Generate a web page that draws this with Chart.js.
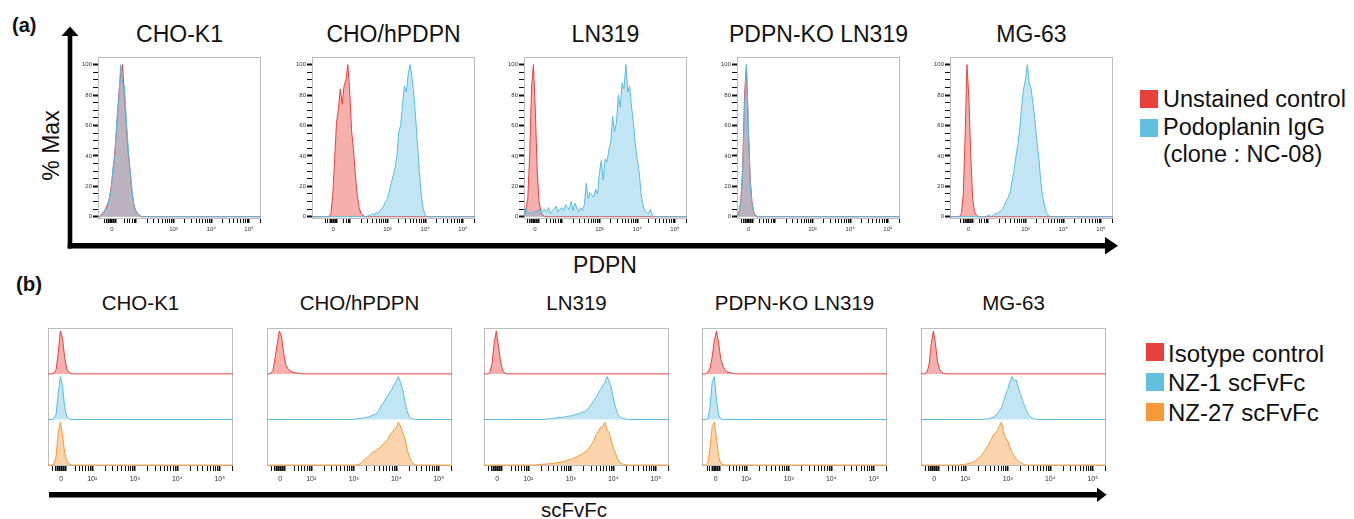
<!DOCTYPE html>
<html>
<head>
<meta charset="utf-8">
<script src="https://cdn.jsdelivr.net/npm/chart.js@4.4.1/dist/chart.umd.min.js"></script>
<style>
  html, body { margin: 0; padding: 0; background: #fff; }
  body { width: 1354px; height: 519px; position: relative; overflow: hidden;
         font-family: "Liberation Sans", Arial, Helvetica, sans-serif; color: #111; }
  .cell { position: absolute; }
  .txt { position: absolute; white-space: nowrap; line-height: 1; }
  .ctr { transform: translateX(-50%); }
  .sw { position: absolute; width: 18px; height: 18px; }
</style>
</head>
<body>
<svg width="1354" height="519" style="position:absolute;left:0;top:0">
  <rect x="67.7" y="33" width="4.6" height="215.5" fill="#000"/>
  <polygon points="61.5,36 78.5,36 70,26.5" fill="#000"/>
  <rect x="67.7" y="243" width="1040" height="5.5" fill="#000"/>
  <polygon points="1105,237 1105,254.5 1118,245.7" fill="#000"/>
  <rect x="49" y="492" width="1050" height="5.5" fill="#000"/>
  <polygon points="1097,487.5 1097,502 1106.5,494.7" fill="#000"/>
</svg>
<div id="page"></div>
<script>
// ===== data =====
const STEP = 0.05; // histogram bin width, in decades of the display axis

const cellLines = ["CHO-K1", "CHO/hPDPN", "LN319", "PDPN-KO LN319", "MG-63"];
const legendA = ["Unstained control", "Podoplanin IgG", "(clone : NC-08)"];
const legendB = ["Isotype control", "NZ-1 scFvFc", "NZ-27 scFvFc"];

const yTicksA = [0, 20, 40, 60, 80, 100];
const xLabelsA = ["0", "10³", "10⁴", "10⁵"];
const xDecadesA = [3, 4, 5];
const xLabelsB = ["0", "10²", "10³", "10⁴", "10⁵"];
const xDecadesB = [2, 3, 4, 5];
const zeroA = [1.37, 1.56, 1.29, 1.31, 1.49];
const zeroB = [1.27, 1.27, 1.27, 1.28, 1.27];

// (a) % max per bin, first bin at the start value
const aRedStart = [1.10, 1.50, 1.05, 1.05, 1.30];
const aBlueStart = [1.10, 2.50, 1.00, 1.05, 2.00];
const aRedChoK1 = [2, 3, 5, 8, 12, 20, 30, 44, 60, 80, 94, 100, 80, 60, 42, 30, 16, 8, 4, 2, 1];
const aBlueChoK1 = [1, 2, 5, 6, 12, 18, 33, 40, 64, 76, 100, 88, 86, 64, 46, 31, 18, 7, 4, 2, 1];
const aRedChoPdpn = [2, 14, 38, 62, 71, 84, 74, 86, 90, 100, 82, 56, 44, 27, 14, 6, 2, 1];
const aBlueChoPdpn = [1, 1, 2, 1, 3, 2, 4, 5, 7, 10, 12, 17, 22, 27, 32, 40, 56, 60, 74, 86,
  82, 94, 100, 92, 80, 64, 46, 28, 13, 5, 1];
const aRedLn319 = [5, 12, 40, 85, 100, 70, 30, 10, 3, 1];
const aBlueLn319 = [6, 5, 3, 2, 3, 2, 4, 3, 5, 3, 4, 5, 3, 6, 2, 4, 5, 7, 3, 5,
  6, 4, 8, 6, 5, 10, 4, 9, 6, 3, 6, 4, 8, 22, 12, 16, 14, 13, 18, 15,
  29, 37, 24, 38, 36, 44, 50, 66, 56, 62, 80, 72, 88, 84, 100, 82, 86, 72, 62, 48,
  38, 30, 16, 8, 4, 3, 2, 5, 1];
const aRedKo = [3, 10, 32, 80, 100, 58, 25, 9, 3];
const aBlueKo = [2, 8, 28, 72, 100, 62, 22, 7, 2, 1];
const aRedMg63 = [2, 14, 52, 100, 78, 40, 12, 3, 1];
const aBlueMg63 = [1, 1, 0, 1, 2, 2, 3, 4, 5, 8, 11, 13, 17, 24, 31, 40, 48, 58, 73, 84,
  90, 100, 88, 84, 74, 64, 50, 40, 25, 14, 8, 3, 1];

// (b) % max per bin
const bRedStart = [1.10, 1.05, 1.10, 1.10, 1.10];
const bBlueStart = [1.10, 3.00, 2.40, 1.10, 2.45];
const bOrangeStart = [1.10, 3.10, 2.20, 1.10, 1.90];
const bRedChoK1 = [2, 10, 48, 100, 84, 40, 12, 3, 1];
const bBlueChoK1 = [2, 12, 60, 100, 80, 30, 8, 2];
const bOrangeChoK1 = [3, 20, 75, 100, 70, 30, 10, 3, 1];
const bRedChoPdpn = [1, 8, 38, 70, 100, 88, 50, 22, 12, 7, 5, 3, 2, 2, 1];
const bBlueChoPdpn = [1, 1, 2, 2, 3, 4, 5, 6, 8, 10, 12, 16, 23, 33, 39, 49, 55, 64, 71, 82,
  89, 100, 86, 70, 44, 20, 8, 2, 1];
const bOrangeChoPdpn = [1, 3, 8, 13, 16, 21, 25, 31, 32, 37, 39, 46, 49, 55, 60, 71, 75, 83, 87, 100,
  91, 75, 63, 40, 20, 9, 3, 1];
const bRedLn319 = [5, 25, 72, 100, 65, 28, 8, 2];
const bBlueLn319 = [1, 1, 2, 2, 3, 3, 4, 5, 5, 6, 7, 8, 8, 10, 11, 12, 14, 16, 18, 20,
  24, 30, 38, 45, 52, 62, 70, 78, 86, 100, 90, 76, 50, 30, 14, 6, 3, 2, 1];
const bOrangeLn319 = [1, 1, 2, 2, 2, 3, 3, 4, 4, 5, 6, 7, 8, 9, 10, 12, 13, 15, 18, 20,
  23, 25, 28, 32, 36, 42, 50, 58, 72, 78, 88, 90, 100, 82, 76, 58, 40, 28, 15, 7, 3, 2, 1];
const bRedKo = [4, 14, 40, 78, 100, 72, 36, 18, 10, 5, 3, 2, 1];
const bBlueKo = [2, 30, 88, 100, 45, 10, 2];
const bOrangeKo = [6, 42, 90, 100, 65, 20, 4, 1];
const bRedMg63 = [4, 22, 70, 100, 70, 28, 10, 3, 1];
const bBlueMg63 = [1, 1, 2, 3, 5, 8, 13, 20, 28, 42, 58, 70, 88, 100, 90, 92, 74, 58, 44, 30,
  18, 10, 5, 2, 1];
const bOrangeMg63 = [1, 1, 2, 3, 4, 6, 8, 11, 15, 19, 25, 32, 40, 48, 58, 68, 75, 80, 90, 100,
  78, 64, 56, 42, 30, 22, 14, 10, 6, 3, 1];

const aRed = [aRedChoK1, aRedChoPdpn, aRedLn319, aRedKo, aRedMg63];
const aBlue = [aBlueChoK1, aBlueChoPdpn, aBlueLn319, aBlueKo, aBlueMg63];
const bRed = [bRedChoK1, bRedChoPdpn, bRedLn319, bRedKo, bRedMg63];
const bBlue = [bBlueChoK1, bBlueChoPdpn, bBlueLn319, bBlueKo, bBlueMg63];
const bOrange = [bOrangeChoK1, bOrangeChoPdpn, bOrangeLn319, bOrangeKo, bOrangeMg63];

// ===== styles / layout =====
const FONT = '"Liberation Sans", "DejaVu Sans", sans-serif';
const RED = "#e8413c", BLUE = "#5bbbe0", ORANGE = "#f5993a";
const RED_FILL = "rgba(232,65,60,0.42)";
const BLUE_FILL = "rgba(91,187,224,0.38)";
const ORANGE_FILL = "rgba(245,153,58,0.42)";

const leftA = [98, 312, 524, 737, 950];
const leftB = [48, 267, 484, 702, 921];
const A_LO = 1.0, A_HI = 5.32, B_LO = 0.96, B_HI = 5.31;

const page = document.getElementById("page");

function addText(str, x, y, size, extra) {
  const d = document.createElement("div");
  d.className = "txt" + (extra && extra.center ? " ctr" : "");
  d.textContent = str;
  d.style.left = x + "px";
  d.style.top = (y - 0.49 * size) + "px";
  d.style.fontSize = size + "px";
  if (extra && extra.bold) d.style.fontWeight = "bold";
  if (extra && extra.rotate) {
    d.style.transform = "translate(-50%, 0) rotate(-90deg)";
  }
  page.appendChild(d);
  return d;
}

function addSwatch(color, x, y) {
  const s = document.createElement("div");
  s.className = "sw";
  s.style.left = x + "px";
  s.style.top = y + "px";
  s.style.background = color;
  page.appendChild(s);
}

function histPoints(start, heights, lo, hi, base, k) {
  const pts = [{ x: lo, y: base }];
  if (start - STEP > lo) pts.push({ x: start - STEP, y: base });
  heights.forEach((h, i) => pts.push({ x: start + i * STEP, y: base + h * k }));
  pts.push({ x: start + heights.length * STEP, y: base });
  pts.push({ x: hi, y: base });
  return pts;
}

function logicleTicks(zero, hi) {
  const vals = [-0.2, -0.14, -0.08, -0.03, 0, 0.05, 0.1].map(d => zero + d);
  for (let d = 1; d <= 5; d++) {
    for (let k = 1; k <= 9; k++) {
      const v = d + Math.log10(k);
      if (v > zero + 0.25 && v <= hi) vals.push(v);
    }
  }
  return vals.sort((p, q) => p - q);
}

function xScale(lo, hi, zero, decades, labels, tickLen, pad, h, fontSize) {
  const ticks = logicleTicks(zero, hi);
  const labelAt = [zero, ...decades];
  const isMajor = v => Math.abs(v - zero) < 0.11 || Math.abs(v - Math.round(v)) < 1e-9;
  return {
    type: "linear", min: lo, max: hi,
    afterBuildTicks: s => { s.ticks = ticks.map(v => ({ value: v })); },
    afterFit: s => { s.height = h; },
    ticks: {
      autoSkip: false, maxRotation: 0, minRotation: 0, padding: pad,
      color: "#333", font: { family: FONT, size: fontSize },
      callback: v => {
        const i = labelAt.findIndex(p => Math.abs(p - v) < 1e-9);
        return i < 0 ? "" : labels[i];
      }
    },
    grid: {
      drawOnChartArea: false, drawTicks: true, tickLength: tickLen, tickColor: "#111",
      tickWidth: c => (c.tick && isMajor(c.tick.value)) ? 2 : 1
    },
    border: { display: false }
  };
}

const framePlugin = {
  id: "frame",
  beforeDatasetsDraw(chart) {
    const { ctx, chartArea: a } = chart;
    ctx.save();
    ctx.strokeStyle = "#bdbdbd";
    ctx.lineWidth = 1;
    ctx.strokeRect(Math.round(a.left) + 0.5, Math.round(a.top) + 0.5,
      Math.round(a.right - a.left) - 1, Math.round(a.bottom - a.top) - 1);
    ctx.restore();
  }
};

function makeCell(x, y, w, h) {
  const div = document.createElement("div");
  div.className = "cell";
  div.style.left = x + "px";
  div.style.top = y + "px";
  div.style.width = w + "px";
  div.style.height = h + "px";
  const c = document.createElement("canvas");
  div.appendChild(c);
  page.appendChild(div);
  return c;
}

function lineSet(points, color, fillColor, fill) {
  return {
    data: points, borderColor: color, backgroundColor: fillColor, fill: fill,
    borderWidth: 1, pointRadius: 0, tension: 0
  };
}

// ===== panel (a) =====
addText("(a)", 12, 25, 20, { bold: true });
addText("% Max", 51, 145, 23, { center: true, rotate: true });
addText("PDPN", 605, 265.5, 23, { center: true });

cellLines.forEach((name, i) => {
  const L = leftA[i];
  addText(name, L + 81.5, 34.2, 23, { center: true });
  const canvas = makeCell(L - 24, 50, 193, 187);
  new Chart(canvas, {
    type: "line",
    data: {
      datasets: [
        lineSet(histPoints(aBlueStart[i], aBlue[i], A_LO, A_HI, 0, 1), BLUE, BLUE_FILL, "origin"),
        lineSet(histPoints(aRedStart[i], aRed[i], A_LO, A_HI, 0, 1), RED, RED_FILL, "origin")
      ]
    },
    options: {
      responsive: true, maintainAspectRatio: false, animation: false, devicePixelRatio: 1,
      layout: { padding: { left: 0, right: 6, top: 7, bottom: 0 } },
      plugins: { legend: { display: false }, tooltip: { enabled: false } },
      scales: {
        x: xScale(A_LO, A_HI, zeroA[i], xDecadesA, xLabelsA, 4, 3, 18, 6),
        y: {
          min: -1.5, max: 105,
          afterBuildTicks: s => {
            const t = [];
            for (let v = 0; v <= 100; v += 5) t.push({ value: v });
            s.ticks = t;
          },
          afterFit: s => { s.width = 24; },
          ticks: {
            autoSkip: false, padding: 1, color: "#333", font: { family: FONT, size: 6 },
            callback: v => yTicksA.includes(v) ? String(v) : ""
          },
          grid: {
            drawOnChartArea: false, tickLength: 5, tickColor: "#111",
            tickWidth: c => (c.tick && yTicksA.includes(c.tick.value)) ? 2 : 1
          },
          border: { display: false }
        }
      }
    },
    plugins: [framePlugin]
  });
});

addSwatch(RED, 1140, 90);
addSwatch("#62bfe0", 1140, 119);
addText(legendA[0], 1163, 100, 23.5);
addText(legendA[1], 1163, 128, 23.5);
addText(legendA[2], 1163, 155, 23.5);

// ===== panel (b) =====
addText("(b)", 16, 284, 20.5, { bold: true });
addText("scFvFc", 574, 510, 20.5, { center: true });

const ROW = 0.94; // peak height as a share of one row
cellLines.forEach((name, i) => {
  const L = leftB[i];
  addText(name, L + 92.5, 303.3, 20.5, { center: true });
  const canvas = makeCell(L - 6, 326, 197, 160);
  new Chart(canvas, {
    type: "line",
    data: {
      datasets: [
        lineSet(histPoints(bRedStart[i], bRed[i], B_LO, B_HI, 2, ROW / 100), RED, RED_FILL, { value: 2 }),
        lineSet(histPoints(bBlueStart[i], bBlue[i], B_LO, B_HI, 1, ROW / 100), BLUE, BLUE_FILL, { value: 1 }),
        lineSet(histPoints(bOrangeStart[i], bOrange[i], B_LO, B_HI, 0, ROW / 100), ORANGE, ORANGE_FILL, { value: 0 })
      ]
    },
    options: {
      responsive: true, maintainAspectRatio: false, animation: false, devicePixelRatio: 1,
      layout: { padding: { left: 6, right: 6, top: 2.3, bottom: 0 } },
      plugins: { legend: { display: false }, tooltip: { enabled: false } },
      scales: {
        x: xScale(B_LO, B_HI, zeroB[i], xDecadesB, xLabelsB, 5, 4, 20, 7),
        y: { display: false, min: -0.02, max: 3 }
      }
    },
    plugins: [framePlugin]
  });
});

addSwatch(RED, 1146, 343);
addSwatch("#62bfe0", 1146, 373);
addSwatch("#f69a38", 1146, 403);
addText(legendB[0], 1168, 353.3, 24);
addText(legendB[1], 1168, 382.5, 24);
addText(legendB[2], 1168, 412.5, 24);
</script>
</body>
</html>
